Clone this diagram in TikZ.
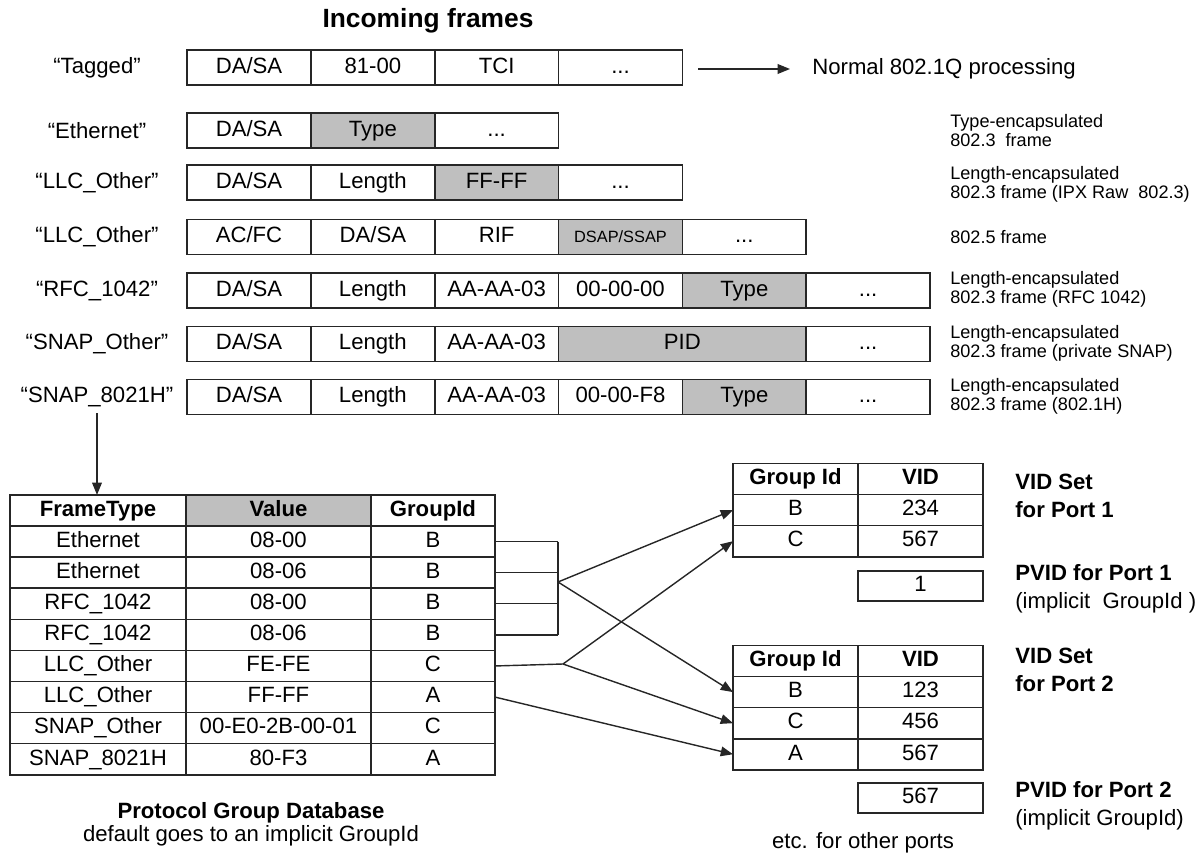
\documentclass[tikz,border=0pt]{standalone}
\usepackage{fontspec}
\setmainfont{Liberation Sans}
\usetikzlibrary{positioning,arrows.meta}

\tikzset{
  cell/.style={draw=black!85, line width=0.9pt, minimum width=2.477cm, minimum height=0.7cm,
    inner sep=0pt, outer sep=0pt, text height=9.2pt, text depth=2.6pt,
    font=\fontsize{12.6}{15}\selectfont},
  wcell/.style={cell, minimum width=4.954cm},
  greyfill/.style={fill=black!25},
  flabel/.style={font=\fontsize{12.6}{15}\selectfont},
  note/.style={anchor=west, align=left, inner sep=0pt, font=\fontsize{10.3}{10.8}\selectfont},
  tcell/.style={draw=black!85, line width=0.9pt, minimum width=#1, minimum height=0.622cm,
    inner sep=0pt, outer sep=0pt, text height=9.2pt, text depth=2.6pt,
    font=\fontsize{12.6}{15}\selectfont},
  tcell/.default=2.5cm,
  boldtext/.style={font=\fontsize{12.6}{15.9}\selectfont\bfseries},
  plaintext/.style={font=\fontsize{12.6}{15.9}\selectfont},
  arr/.style={-{Triangle[length=7pt,width=5.5pt]}, line width=0.8pt, draw=black!85},
  link/.style={line width=0.8pt, draw=black!85},
}

\begin{document}
\begin{tikzpicture}[x=0.02cm, y=-0.02cm]
  \useasboundingbox (0,0) rectangle (1200,855);

  % incoming frames
  \node[font=\fontsize{15}{18}\selectfont\bfseries] (title) at (428,21) {Incoming frames};

  \node[flabel] (tgl) at (97,67.5) {“Tagged”};
  \node[cell] (tg1) at (249,67.5) {DA/SA};
  \node[cell, right=0pt of tg1] (tg2) {81-00};
  \node[cell, right=0pt of tg2] (tg3) {TCI};
  \node[cell, right=0pt of tg3] (tg4) {...};
  \coordinate (tgout) at (698,69);
  \coordinate (tgin) at (790,69);
  \node[flabel, anchor=west, inner sep=0pt] (normal) at (812,69) {Normal 802.1Q processing};
  \draw[arr] (tgout) -- (tgin);

  \node[flabel] (etl) at (97,130.5) {“Ethernet”};
  \node[cell] (et1) at (249,130.5) {DA/SA};
  \node[cell, greyfill, right=0pt of et1] (et2) {Type};
  \node[cell, right=0pt of et2] (et3) {...};

  \node[flabel] (lol) at (97,182.5) {“LLC\_Other”};
  \node[cell] (lo1) at (249,182.5) {DA/SA};
  \node[cell, right=0pt of lo1] (lo2) {Length};
  \node[cell, greyfill, right=0pt of lo2] (lo3) {FF-FF};
  \node[cell, right=0pt of lo3] (lo4) {...};

  \node[flabel] (ltl) at (97,237) {“LLC\_Other”};
  \node[cell] (lt1) at (249,237) {AC/FC};
  \node[cell, right=0pt of lt1] (lt2) {DA/SA};
  \node[cell, right=0pt of lt2] (lt3) {RIF};
  \node[cell, greyfill, right=0pt of lt3, font=\fontsize{9.3}{11}\selectfont, text height=6.8pt, text depth=1pt] (lt4) {DSAP/SSAP};
  \node[cell, right=0pt of lt4] (lt5) {...};

  \node[flabel] (rfl) at (97,290.5) {“RFC\_1042”};
  \node[cell] (rf1) at (249,290.5) {DA/SA};
  \node[cell, right=0pt of rf1] (rf2) {Length};
  \node[cell, right=0pt of rf2] (rf3) {AA-AA-03};
  \node[cell, right=0pt of rf3] (rf4) {00-00-00};
  \node[cell, greyfill, right=0pt of rf4] (rf5) {Type};
  \node[cell, right=0pt of rf5] (rf6) {...};

  \node[flabel] (sol) at (97,344) {“SNAP\_Other”};
  \node[cell] (so1) at (249,344) {DA/SA};
  \node[cell, right=0pt of so1] (so2) {Length};
  \node[cell, right=0pt of so2] (so3) {AA-AA-03};
  \node[wcell, greyfill, right=0pt of so3] (so4) {PID};
  \node[cell, right=0pt of so4] (so5) {...};

  \node[flabel] (shl) at (97,397) {“SNAP\_8021H”};
  \node[cell] (sh1) at (249,397) {DA/SA};
  \node[cell, right=0pt of sh1] (sh2) {Length};
  \node[cell, right=0pt of sh2] (sh3) {AA-AA-03};
  \node[cell, right=0pt of sh3] (sh4) {00-00-F8};
  \node[cell, greyfill, right=0pt of sh4] (sh5) {Type};
  \node[cell, right=0pt of sh5] (sh6) {...};

  % notes
  \node[note] (n1) at (950,130.5) {Type-encapsulated\\802.3\ \ frame};
  \node[note] (n2) at (950,184) {Length-encapsulated\\802.3 frame (IPX Raw\ \ 802.3)};
  \node[note] (n3) at (950,237) {802.5 frame};
  \node[note] (n4) at (950,289) {Length-encapsulated\\802.3 frame (RFC 1042)};
  \node[note] (n5) at (950,343) {Length-encapsulated\\802.3 frame (private SNAP)};
  \node[note] (n6) at (950,396) {Length-encapsulated\\802.3 frame (802.1H)};

  % protocol group database
  \node[tcell=3.52cm, boldtext] (f0) at (98,510.5) {FrameType};
  \node[tcell=3.7cm, boldtext, greyfill, right=0pt of f0] (v0) {Value};
  \node[tcell=2.48cm, boldtext, right=0pt of v0] (g0) {GroupId};
  \node[tcell=3.52cm, below=0pt of f0] (f1) {Ethernet};
  \node[tcell=3.7cm, right=0pt of f1] (v1) {08-00};
  \node[tcell=2.48cm, right=0pt of v1] (g1) {B};
  \node[tcell=3.52cm, below=0pt of f1] (f2) {Ethernet};
  \node[tcell=3.7cm, right=0pt of f2] (v2) {08-06};
  \node[tcell=2.48cm, right=0pt of v2] (g2) {B};
  \node[tcell=3.52cm, below=0pt of f2] (f3) {RFC\_1042};
  \node[tcell=3.7cm, right=0pt of f3] (v3) {08-00};
  \node[tcell=2.48cm, right=0pt of v3] (g3) {B};
  \node[tcell=3.52cm, below=0pt of f3] (f4) {RFC\_1042};
  \node[tcell=3.7cm, right=0pt of f4] (v4) {08-06};
  \node[tcell=2.48cm, right=0pt of v4] (g4) {B};
  \node[tcell=3.52cm, below=0pt of f4] (f5) {LLC\_Other};
  \node[tcell=3.7cm, right=0pt of f5] (v5) {FE-FE};
  \node[tcell=2.48cm, right=0pt of v5] (g5) {C};
  \node[tcell=3.52cm, below=0pt of f5] (f6) {LLC\_Other};
  \node[tcell=3.7cm, right=0pt of f6] (v6) {FF-FF};
  \node[tcell=2.48cm, right=0pt of v6] (g6) {A};
  \node[tcell=3.52cm, below=0pt of f6] (f7) {SNAP\_Other};
  \node[tcell=3.7cm, right=0pt of f7] (v7) {00-E0-2B-00-01};
  \node[tcell=2.48cm, right=0pt of v7] (g7) {C};
  \node[tcell=3.52cm, below=0pt of f7] (f8) {SNAP\_8021H};
  \node[tcell=3.7cm, right=0pt of f8] (v8) {80-F3};
  \node[tcell=2.48cm, right=0pt of v8] (g8) {A};

  \draw[arr] (shl.south) -- (shl.south |- f0.north);

  \node[align=center, plaintext, font=\fontsize{12.6}{13}\selectfont] (pgdb) at (251,824.5)
    {\textbf{Protocol Group Database}\\default goes to an implicit GroupId};

  % port 1
  \node[tcell, boldtext] (pa0) at (795.5,479) {Group Id};
  \node[tcell, boldtext, right=0pt of pa0] (va0) {VID};
  \node[tcell, below=0pt of pa0] (pa1) {B};
  \node[tcell, right=0pt of pa1] (va1) {234};
  \node[tcell, below=0pt of pa1] (pa2) {C};
  \node[tcell, right=0pt of pa2] (va2) {567};
  \node[tcell, minimum height=0.6cm] (pvA) at (920.5,586) {1};
  \node[boldtext, anchor=west, align=left, inner sep=0pt] (vsA) at (1015,496) {VID Set\\for Port 1};
  \node[plaintext, anchor=west, align=left, inner sep=0pt] (pvlA) at (1015,589)
    {\textbf{PVID for Port 1}\\(implicit\ \ GroupId )};

  % port 2
  \node[tcell, boldtext] (pb0) at (795.5,661) {Group Id};
  \node[tcell, boldtext, right=0pt of pb0] (vb0) {VID};
  \node[tcell, below=0pt of pb0] (pb1) {B};
  \node[tcell, right=0pt of pb1] (vb1) {123};
  \node[tcell, below=0pt of pb1] (pb2) {C};
  \node[tcell, right=0pt of pb2] (vb2) {456};
  \node[tcell, below=0pt of pb2] (pb3) {A};
  \node[tcell, right=0pt of pb3] (vb3) {567};
  \node[tcell, minimum height=0.6cm] (pvB) at (920.5,798) {567};
  \node[boldtext, anchor=west, align=left, inner sep=0pt] (vsB) at (1015,669.5) {VID Set\\for Port 2};
  \node[plaintext, anchor=west, align=left, inner sep=0pt] (pvlB) at (1015,805.5)
    {\textbf{PVID for Port 2}\\(implicit GroupId)};

  \node[plaintext] (etc) at (863,843) {etc. for other ports};

  % group mapping
  \coordinate (hubB) at (558,582);
  \coordinate (hubC) at (563,664);
  \draw[link] (g1.east) -- (g1.east -| hubB);
  \draw[link] (g2.east) -- (g2.east -| hubB);
  \draw[link] (g3.east) -- (g3.east -| hubB);
  \draw[link] (g4.east) -- (g4.east -| hubB);
  \draw[link] (g1.east -| hubB) -- (g4.east -| hubB);
  \draw[link] (g5.east) -- (hubC);
  \draw[arr] (hubB) -- (pa1.west);
  \draw[arr] (hubB) -- (pb1.west);
  \draw[arr] (hubC) -- (pa2.west);
  \draw[arr] (hubC) -- (pb2.west);
  \draw[arr] (g6.east) -- (pb3.west);
\end{tikzpicture}
\end{document}
